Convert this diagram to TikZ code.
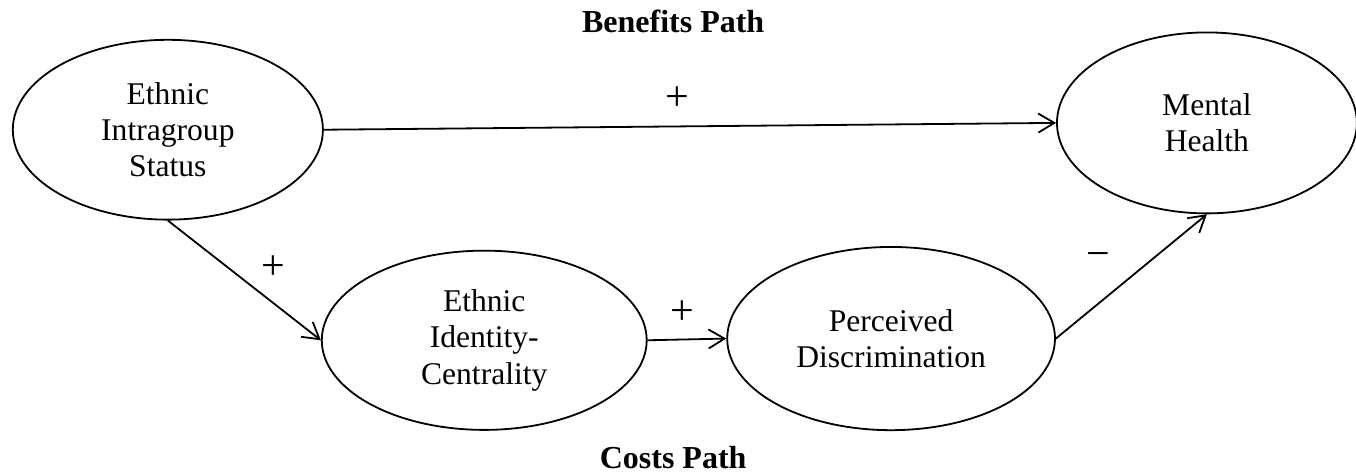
\documentclass[tikz,border=0pt]{standalone}
\usepackage{fontspec}
\setmainfont{Liberation Serif}
\usepackage{tikz}
\usetikzlibrary{arrows.meta,positioning,shapes.geometric}

\begin{document}
\begin{tikzpicture}[>={Straight Barb[length=8pt,width=9.5pt]},
  latent/.style={draw,ellipse,line width=0.9pt,inner sep=0pt,align=center,
    font=\fontsize{15.8}{18.2}\selectfont},
  sign/.style={font=\fontsize{21}{22}\selectfont},
  pathlabel/.style={font=\fontsize{16}{18}\selectfont\bfseries},
  link/.style={->,line width=0.9pt}]
\useasboundingbox (0,0) rectangle (23.83,8.35);
\node[latent,minimum width=5.45cm,minimum height=3.16cm] (intra) at (2.95,6.07) {Ethnic\\Intragroup\\Status};
\node[latent,minimum width=5.27cm,minimum height=3.18cm] (mental) at (21.21,6.19) {Mental\\Health};
\node[latent,minimum width=5.71cm,minimum height=3.15cm] (ident) at (8.51,2.37) {Ethnic\\Identity-\\Centrality};
\node[latent,minimum width=5.76cm,minimum height=3.22cm] (perc) at (15.66,2.40) {Perceived\\Discrimination};
% paths
\draw[link] (intra.east) -- (mental.west);
\draw[link] (intra.south) -- (ident.west);
\draw[link] (ident.east) -- (perc.west);
\draw[link] (perc.east) -- (mental.south);
% signs
\node[sign] (s1) at (11.90,6.62) {+};
\node[sign] (s2) at (4.81,3.65) {+};
\node[sign] (s3) at (12.00,2.86) {+};
\node[sign] (s4) at (19.30,3.78) {−};
\node[pathlabel] (benefits) at (11.83,7.98) {Benefits Path};
\node[pathlabel] (costs) at (11.83,0.31) {Costs Path};
\end{tikzpicture}
\end{document}
